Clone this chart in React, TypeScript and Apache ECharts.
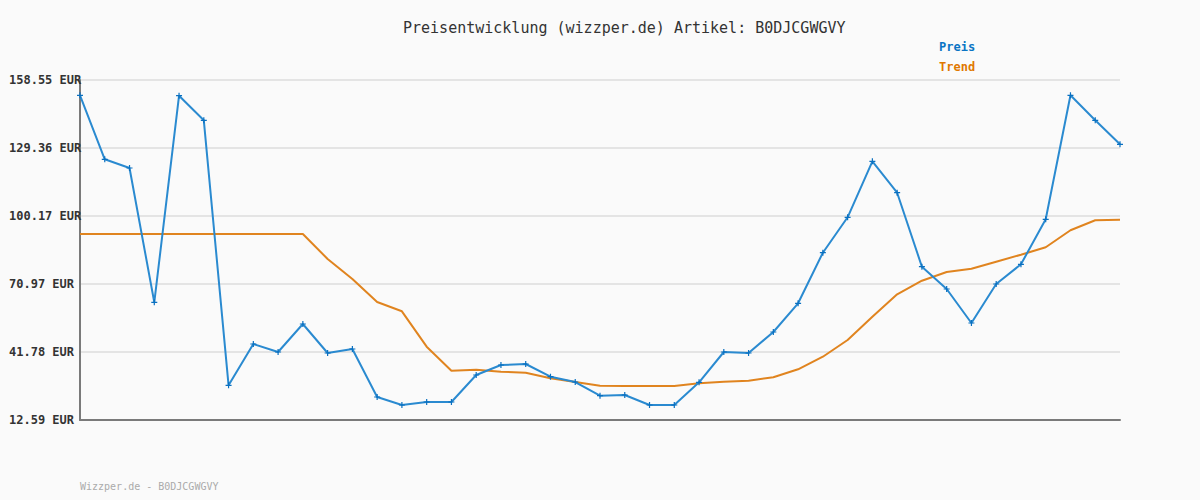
import React, { useEffect, useRef } from "react";
import * as echarts from "echarts";

const categories: string[] = [
  "1", "2", "3", "4", "5", "6", "7", "8", "9", "10",
  "11", "12", "13", "14", "15", "16", "17", "18", "19", "20",
  "21", "22", "23", "24", "25", "26", "27", "28", "29", "30",
  "31", "32", "33", "34", "35", "36", "37", "38", "39", "40",
  "41", "42", "43",
];

const preis: number[] = [
  151.98, 124.51, 120.77, 63.12, 151.81, 141.25, 27.48, 45.22, 41.78, 53.8,
  41.35, 43.07, 22.46, 19.03, 20.32, 20.32, 31.91, 36.2, 36.63, 31.18,
  28.9, 23.02, 23.32, 19.03, 19.03, 28.77, 41.78, 41.35, 50.37, 62.69,
  84.41, 99.61, 123.65, 110.17, 78.4, 68.83, 54.23, 70.97, 79.43, 98.75,
  151.98, 141.25, 130.95,
];

const trend: number[] = [
  92.44, 92.44, 92.44, 92.44, 92.44, 92.44, 92.44, 92.44, 92.44, 92.44,
  81.71, 73.12, 63.25, 59.25, 44.06, 33.75, 34.18, 33.32, 32.89, 30.49,
  28.9, 27.31, 27.18, 27.18, 27.18, 28.34, 29.03, 29.46, 30.92, 34.35,
  39.76, 46.93, 56.93, 66.55, 72.39, 76.12, 77.54, 80.55, 83.55, 86.73,
  94.03, 98.32, 98.58,
];

const yTicks: number[] = [12.59, 41.78, 70.97, 100.17, 129.36, 158.55];

const title = "Preisentwicklung (wizzper.de) Artikel: B0DJCGWGVY";
const footer = "Wizzper.de - B0DJCGWGVY";
const legendNames: string[] = ["Preis", "Trend"];

const MONO = "'DejaVu Sans Mono', monospace";
const BLUE_LINE = "#2a8ad0";
const BLUE_MARK = "#0a70c0";
const BLUE_TEXT = "#0a74c4";
const ORANGE = "#e0841f";
const ORANGE_TEXT = "#e07800";

export default function App() {
  const ref = useRef<HTMLDivElement>(null);

  useEffect(() => {
    document.body.style.margin = "0";
    if (!ref.current) return;
    const chart = echarts.init(ref.current, undefined, { renderer: "svg" });
    chart.setOption({
      animation: false,
      backgroundColor: "#fafafa",
      grid: { left: 80, right: 80, top: 80, bottom: 80, containLabel: false },
      xAxis: {
        type: "category",
        data: categories,
        boundaryGap: false,
        axisLine: { show: true, lineStyle: { color: "#7a7a7a", width: 2 } },
        axisTick: { show: false },
        axisLabel: { show: false },
        splitLine: { show: false },
      },
      yAxis: {
        type: "value",
        min: yTicks[0],
        max: yTicks[yTicks.length - 1],
        axisLine: { show: true, lineStyle: { color: "#7a7a7a", width: 2 } },
        axisTick: { show: false, customValues: yTicks },
        axisLabel: {
          customValues: yTicks,
          formatter: (v: number) => v.toFixed(2) + " EUR",
          fontFamily: MONO,
          fontSize: 12,
          fontWeight: "bold",
          color: "#333",
          align: "left",
          margin: 71,
        },
        splitLine: { show: true, lineStyle: { color: "#e4e4e4", width: 2 } },
      },
      series: [
        {
          name: legendNames[1],
          type: "line",
          data: trend,
          symbol: "none",
          lineStyle: { color: ORANGE, width: 2 },
          z: 2,
        },
        {
          name: legendNames[0],
          type: "line",
          data: preis,
          symbol: "path://M2,0H3V2H5V3H3V5H2V3H0V2H2Z",
          symbolSize: 6,
          showSymbol: true,
          itemStyle: { color: BLUE_MARK },
          lineStyle: { color: BLUE_LINE, width: 2 },
          z: 3,
        },
      ],
      graphic: [
        {
          type: "text",
          left: 403,
          top: 20,
          style: { text: title, font: `15px ${MONO}`, fill: "#333" },
        },
        {
          type: "text",
          left: 939,
          top: 41,
          style: { text: legendNames[0], font: `bold 12px ${MONO}`, fill: BLUE_TEXT },
        },
        {
          type: "text",
          left: 939,
          top: 61,
          style: { text: legendNames[1], font: `bold 12px ${MONO}`, fill: ORANGE_TEXT },
        },
        {
          type: "text",
          left: 80,
          top: 481,
          style: { text: footer, font: `10px ${MONO}`, fill: "#aaaaaa" },
        },
      ],
    });
    return () => chart.dispose();
  }, []);

  return <div ref={ref} style={{ width: 1200, height: 500 }} />;
}
